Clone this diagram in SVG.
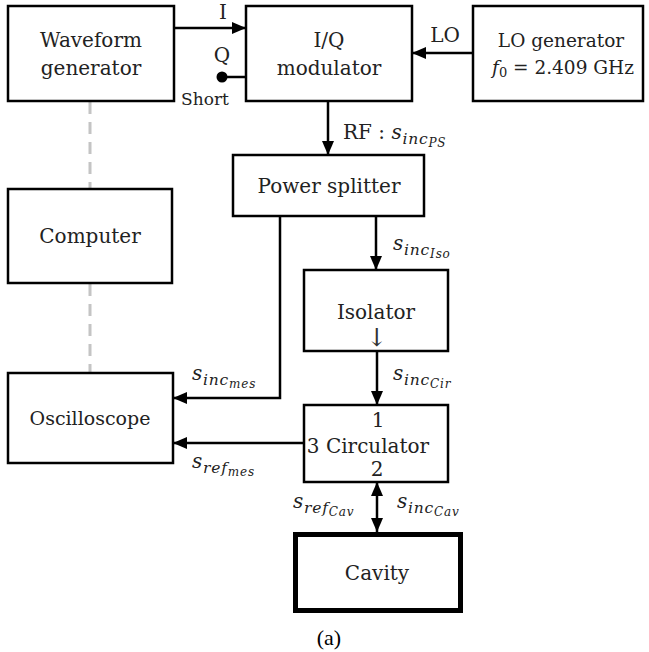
<svg xmlns="http://www.w3.org/2000/svg" width="649" height="652" viewBox="0 0 649 652">
<style>
.box{fill:#fff;stroke:#000;stroke-width:2.5}
.t{font-family:"DejaVu Serif","Liberation Serif",serif;font-size:20px;fill:#222;text-anchor:middle}
.m{font-family:"DejaVu Serif","Liberation Serif",serif;font-size:20px;font-style:italic;fill:#222;letter-spacing:0.8px}
.s1{font-size:15.5px}
.s2{font-size:12px}
.c{fill:none;stroke:#000;stroke-width:2.5}
.d{fill:none;stroke:#c4c4c4;stroke-width:3;stroke-dasharray:12 8}
</style>
<defs>
<marker id="ah" viewBox="0 0 14 12" markerUnits="userSpaceOnUse" markerWidth="14" markerHeight="12" refX="14" refY="6" orient="auto-start-reverse">
<path d="M0,0 L14,6 L0,12 z" fill="#000"/>
</marker>
</defs>
<g id="connectors">
<path class="d" d="M90,102 V189 M90,284 V373"/>
<path class="c" d="M174,28 H246" marker-end="url(#ah)"/>
<path class="c" d="M222,77 H246"/>
<circle cx="222" cy="77" r="5.5" fill="#000"/>
<path class="c" d="M473,53 H412" marker-end="url(#ah)"/>
<path class="c" d="M328,101 V155" marker-end="url(#ah)"/>
<path class="c" d="M376,216 V270" marker-end="url(#ah)"/>
<path class="c" d="M377,351 V405" marker-end="url(#ah)"/>
<path class="c" d="M280,216 V398 H173" marker-end="url(#ah)"/>
<path class="c" d="M304,443 H173" marker-end="url(#ah)"/>
<path class="c" d="M377,482 V532" marker-start="url(#ah)" marker-end="url(#ah)"/>
<text class="t" x="223" y="19">I</text>
<text class="t" x="222" y="62">Q</text>
<text class="t" x="205" y="105" style="font-size:17px">Short</text>
<text class="t" x="445" y="42">LO</text>
<text x="343" y="139" class="t" style="text-anchor:start">RF : <tspan class="m">s</tspan><tspan class="m s1" dy="5">inc</tspan><tspan class="m s2" dy="3">PS</tspan></text>
<text x="393" y="250" class="m">s<tspan class="s1" dy="5">inc</tspan><tspan class="s2" dy="3">Iso</tspan></text>
<text x="393" y="380" class="m">s<tspan class="s1" dy="5">inc</tspan><tspan class="s2" dy="3">Cir</tspan></text>
<text x="192" y="380" class="m">s<tspan class="s1" dy="5">inc</tspan><tspan class="s2" dy="3">mes</tspan></text>
<text x="192" y="468" class="m">s<tspan class="s1" dy="5">ref</tspan><tspan class="s2" dy="3">mes</tspan></text>
<text x="293" y="508" class="m">s<tspan class="s1" dy="5">ref</tspan><tspan class="s2" dy="3">Cav</tspan></text>
<text x="397" y="508" class="m">s<tspan class="s1" dy="5">inc</tspan><tspan class="s2" dy="3">Cav</tspan></text>
</g>
<g id="waveform">
<rect class="box" x="8" y="6" width="166" height="95"/>
<text class="t" x="91" y="47">Waveform</text>
<text class="t" x="91" y="75">generator</text>
</g>
<g id="iq">
<rect class="box" x="246" y="6" width="166" height="95"/>
<text class="t" x="329" y="47">I/Q</text>
<text class="t" x="329" y="75">modulator</text>
</g>
<g id="lo">
<rect class="box" x="473" y="6" width="170" height="95"/>
<text class="t" x="561" y="47" style="font-size:18.5px">LO generator</text>
<text class="t" x="563" y="74" style="font-size:18.5px"><tspan style="font-style:italic">f</tspan><tspan style="font-size:13px" dy="3">0</tspan><tspan dy="-3"> = 2.409 GHz</tspan></text>
</g>
<g id="splitter">
<rect class="box" x="233" y="155" width="191" height="61"/>
<text class="t" x="329" y="193">Power splitter</text>
</g>
<g id="computer">
<rect class="box" x="8" y="189" width="164" height="94"/>
<text class="t" x="90" y="243">Computer</text>
</g>
<g id="oscilloscope">
<rect class="box" x="8" y="373" width="165" height="90"/>
<text class="t" x="90" y="425" style="font-size:19px">Oscilloscope</text>
</g>
<g id="isolator">
<rect class="box" x="304" y="270" width="144" height="81"/>
<text class="t" x="376" y="319">Isolator</text>
<text class="t" x="377" y="346" style="font-size:25px;fill:#333">↓</text>
</g>
<g id="circulator">
<rect class="box" x="304" y="405" width="144" height="77"/>
<text class="t" x="378" y="427">1</text>
<text class="t" x="368" y="453">3 Circulator</text>
<text class="t" x="377" y="476">2</text>
</g>
<g id="cavity">
<rect x="295.5" y="534.5" width="165" height="76" fill="#fff" stroke="#000" stroke-width="5"/>
<text class="t" x="377" y="580">Cavity</text>
</g>
<text x="329" y="645" style="font-family:'Liberation Serif',serif;font-size:22px;text-anchor:middle;fill:#000">(a)</text>
</svg>
